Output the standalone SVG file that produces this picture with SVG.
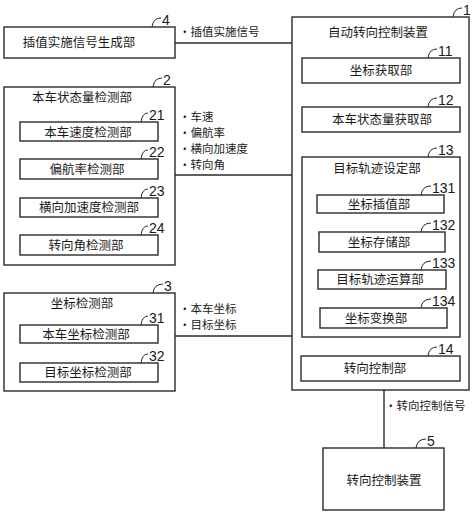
<svg xmlns="http://www.w3.org/2000/svg" width="475" height="515" viewBox="0 0 475 515">
<style>
.b{fill:#fff;stroke:#2a2a2a;stroke-width:1.4}
.c{fill:none;stroke:#2a2a2a;stroke-width:1.4}
.l{fill:none;stroke:#2a2a2a;stroke-width:1}
text{font-family:"Noto Sans CJK SC","Noto Sans CJK JP",sans-serif;fill:#1a1a1a}
.t{font-size:12.5px;text-anchor:middle}
.s{font-size:11.5px}
.n{font-family:"Liberation Sans Narrow","Liberation Sans",sans-serif;font-size:14px}
</style>
<rect width="475" height="515" fill="#fff"/>
<g id="connectors">
<path class="c" d="M175,43H292"/>
<path class="c" d="M175,175H292"/>
<path class="c" d="M175,336H292"/>
<path class="c" d="M384,390V448"/>
<text class="s" x="179" y="36">・插值实施信号</text>
<text class="s" x="179" y="121">・车速</text>
<text class="s" x="179" y="137">・偏航率</text>
<text class="s" x="179" y="153">・横向加速度</text>
<text class="s" x="179" y="169">・转向角</text>
<text class="s" x="179" y="313">・本车坐标</text>
<text class="s" x="179" y="329">・目标坐标</text>
<text class="s" x="385" y="410">・转向控制信号</text>
</g>
<g id="node4">
<rect class="b" x="4" y="27" width="171" height="31"/>
<text class="t" x="79" y="47">插值实施信号生成部</text>
<path class="l" d="M152,27Q153,18 161,18"/><text class="n" x="162" y="25">4</text>
</g>
<g id="node2">
<rect class="b" x="4" y="87" width="171" height="178"/>
<text class="t" x="82" y="101.5">本车状态量检测部</text>
<path class="l" d="M153,87Q154,78 162,78"/><text class="n" x="163" y="85">2</text>
<g id="node21">
<rect class="b" x="20" y="122" width="138" height="19"/>
<text class="t" x="88" y="136.5">本车速度检测部</text>
<path class="l" d="M141,122Q142,113 148,113"/><text class="n" x="149" y="120">21</text>
</g>
<g id="node22">
<rect class="b" x="20" y="159" width="138" height="20"/>
<text class="t" x="87" y="173.5">偏航率检测部</text>
<path class="l" d="M141,159Q142,150 148,150"/><text class="n" x="149" y="157">22</text>
</g>
<g id="node23">
<rect class="b" x="20" y="198" width="138" height="19"/>
<text class="t" x="89" y="212">横向加速度检测部</text>
<path class="l" d="M141,198Q142,189 148,189"/><text class="n" x="149" y="196">23</text>
</g>
<g id="node24">
<rect class="b" x="20" y="235" width="138" height="20"/>
<text class="t" x="86" y="249.5">转向角检测部</text>
<path class="l" d="M141,235Q142,226 148,226"/><text class="n" x="149" y="233">24</text>
</g>
</g>
<g id="node3">
<rect class="b" x="4" y="293" width="171" height="98"/>
<text class="t" x="82" y="307.5">坐标检测部</text>
<path class="l" d="M153,293Q154,284 163,284"/><text class="n" x="164" y="291">3</text>
<g id="node31">
<rect class="b" x="20" y="325" width="138" height="18"/>
<text class="t" x="86" y="338.5">本车坐标检测部</text>
<path class="l" d="M141,325Q142,316 148,316"/><text class="n" x="149" y="323">31</text>
</g>
<g id="node32">
<rect class="b" x="20" y="363" width="138" height="19"/>
<text class="t" x="88" y="377">目标坐标检测部</text>
<path class="l" d="M141,363Q142,354 148,354"/><text class="n" x="149" y="361">32</text>
</g>
</g>
<g id="node1">
<rect class="b" x="292" y="17" width="177" height="373"/>
<text class="t" x="378" y="36.5">自动转向控制装置</text>
<path class="l" d="M453,17Q454,8 462,8"/><text class="n" x="463" y="15">1</text>
<g id="node11">
<rect class="b" x="302" y="58" width="158" height="25"/>
<text class="t" x="381" y="75">坐标获取部</text>
<path class="l" d="M428,58Q429,49 437,49"/><text class="n" x="438" y="56">11</text>
</g>
<g id="node12">
<rect class="b" x="302" y="107" width="158" height="25"/>
<text class="t" x="382" y="124">本车状态量获取部</text>
<path class="l" d="M428,107Q429,98 437,98"/><text class="n" x="438" y="105">12</text>
</g>
<g id="node13">
<rect class="b" x="302" y="157" width="158" height="180"/>
<text class="t" x="377" y="172.5">目标轨迹设定部</text>
<path class="l" d="M428,157Q429,148 437,148"/><text class="n" x="438" y="155">13</text>
<g id="node131">
<rect class="b" x="317" y="195" width="127" height="18"/>
<text class="t" x="379" y="208.5">坐标插值部</text>
<path class="l" d="M421,195Q422,186 431,186"/><text class="n" x="432" y="193">131</text>
</g>
<g id="node132">
<rect class="b" x="319" y="232" width="126" height="20"/>
<text class="t" x="379" y="246.5">坐标存储部</text>
<path class="l" d="M421,232Q422,223 431,223"/><text class="n" x="432" y="230">132</text>
</g>
<g id="node133">
<rect class="b" x="318" y="270" width="128" height="19"/>
<text class="t" x="380" y="284">目标轨迹运算部</text>
<path class="l" d="M421,270Q422,261 431,261"/><text class="n" x="432" y="268">133</text>
</g>
<g id="node134">
<rect class="b" x="320" y="308" width="127" height="20"/>
<text class="t" x="376" y="322.5">坐标变换部</text>
<path class="l" d="M421,308Q422,299 431,299"/><text class="n" x="432" y="306">134</text>
</g>
</g>
<g id="node14">
<rect class="b" x="301" y="356" width="159" height="25"/>
<text class="t" x="375" y="373">转向控制部</text>
<path class="l" d="M428,356Q429,347 437,347"/><text class="n" x="438" y="354">14</text>
</g>
</g>
<g id="node5">
<rect class="b" x="323" y="448" width="121" height="62"/>
<text class="t" x="384" y="484.5">转向控制装置</text>
<path class="l" d="M416,448Q417,439 426,439"/><text class="n" x="427" y="446">5</text>
</g>
</svg>
